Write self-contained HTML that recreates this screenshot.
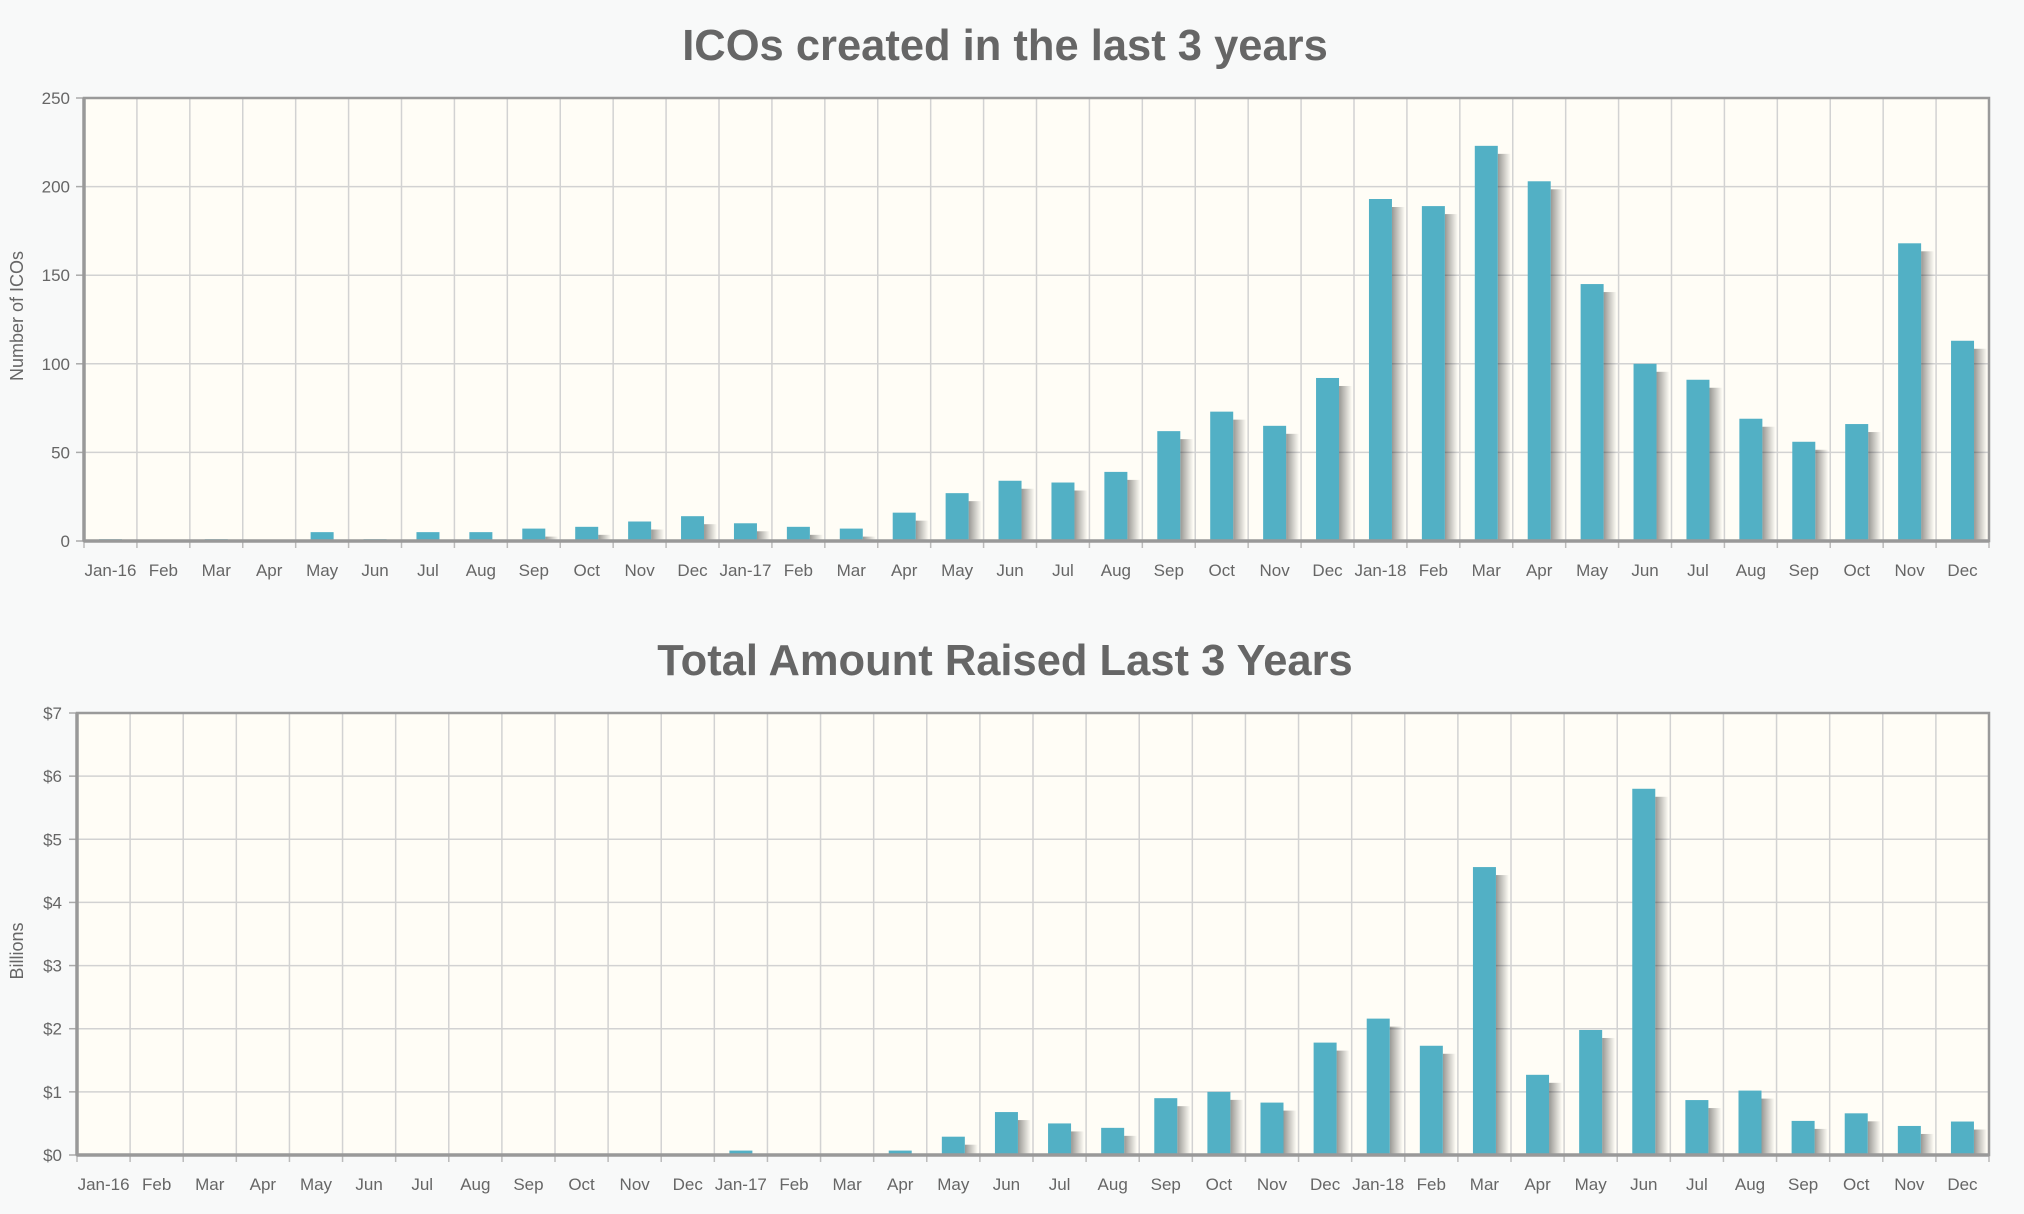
<!DOCTYPE html>
<html><head><meta charset="utf-8"><style>
html,body{margin:0;padding:0;background:#f8f9f9;}
svg{display:block;font-family:"Liberation Sans","DejaVu Sans",sans-serif;}
</style></head><body>
<svg id="s" width="2024" height="1214" xmlns="http://www.w3.org/2000/svg">
<defs>
<linearGradient id="sh" x1="0" x2="1" y1="0" y2="0">
<stop offset="0" stop-color="#000" stop-opacity="0.4"/>
<stop offset="1" stop-color="#000" stop-opacity="0"/>
</linearGradient>
</defs>
</svg>
<script>
var s=document.getElementById('s');var NS='http://www.w3.org/2000/svg';
function el(t,a,txt){var e=document.createElementNS(NS,t);for(var k in a)e.setAttribute(k,a[k]);if(txt!==undefined)e.textContent=txt;s.appendChild(e);return e;}
var months=['Jan-16','Feb','Mar','Apr','May','Jun','Jul','Aug','Sep','Oct','Nov','Dec','Jan-17','Feb','Mar','Apr','May','Jun','Jul','Aug','Sep','Oct','Nov','Dec','Jan-18','Feb','Mar','Apr','May','Jun','Jul','Aug','Sep','Oct','Nov','Dec'];
function chart(o){
  var L=o.L,R=o.R,T=o.T,B=o.B,w=(R-L)/36;
  el('rect',{x:L,y:T,width:R-L,height:B-T,fill:'#fffdf6'});
  for(var i=1;i<36;i++){var x=L+i*w;el('line',{x1:x,x2:x,y1:T,y2:B,stroke:'#d2d2d2','stroke-width':1.5});}
  for(var j=0;j<o.ticks.length;j++){var y=B-(B-T)*j/(o.ticks.length-1);
    if(j>0&&j<o.ticks.length-1)el('line',{x1:L,x2:R,y1:y,y2:y,stroke:'#d2d2d2','stroke-width':1.5});
    el('line',{x1:L-8,x2:L,y1:y,y2:y,stroke:'#aaa','stroke-width':1.5});
    el('text',{x:o.tx,y:y+6,'text-anchor':'end','font-size':17,fill:'#666'},o.ticks[j]);}
  for(var i=0;i<36;i++){var v=o.data[i];var h=v*o.k;var cx=L+(i+0.5)*w;
    if(h>0.5){
      if(h>8)el('rect',{x:cx+11.5,y:B-h+8,width:13,height:h-8,fill:'url(#sh)'});
      el('rect',{x:cx-11.5,y:B-h,width:23,height:h,fill:'#52b0c5'});}
    el('text',{x:cx,y:o.ly,'text-anchor':'middle','font-size':17,fill:'#666'},months[i]);
    el('line',{x1:L+i*w,x2:L+i*w,y1:B,y2:B+7,stroke:'#bbb','stroke-width':1.5});}
  el('line',{x1:R,x2:R,y1:B,y2:B+7,stroke:'#bbb','stroke-width':1.5});
  el('rect',{x:L,y:T,width:R-L,height:B-T,fill:'none',stroke:'#9a9a9a','stroke-width':2.5});
  el('line',{x1:L,x2:L,y1:T,y2:B,stroke:'#999','stroke-width':3.5});
  el('line',{x1:L,x2:R,y1:B,y2:B,stroke:'#999','stroke-width':3.5});
  el('text',{x:o.tcx,y:o.tty,'text-anchor':'middle','font-size':43.5,'font-weight':'bold',fill:'#666'},o.title);
  el('text',{x:0,y:0,'text-anchor':'middle','font-size':18,fill:'#666',transform:'translate('+o.ax+','+o.ay+') rotate(-90)'},o.atitle);
}
chart({L:84,R:1989,T:98,B:541,tx:70,ly:576,tty:60,tcx:1005,ax:23,ay:316,k:(541-98)/250,
 ticks:['0','50','100','150','200','250'],title:'ICOs created in the last 3 years',atitle:'Number of ICOs',
 data:[1,0,1,0,5,1,5,5,7,8,11,14,10,8,7,16,27,34,33,39,62,73,65,92,193,189,223,203,145,100,91,69,56,66,168,113]});
chart({L:77,R:1989,T:713,B:1155,tx:62,ly:1190,tty:675,tcx:1005,ax:23,ay:951,k:(1155-713)/7,
 ticks:['$0','$1','$2','$3','$4','$5','$6','$7'],title:'Total Amount Raised Last 3 Years',atitle:'Billions',
 data:[0,0,0,0,0.02,0,0,0.02,0.02,0.02,0.02,0,0.07,0.02,0.02,0.07,0.29,0.68,0.5,0.43,0.9,1.0,0.83,1.78,2.16,1.73,4.56,1.27,1.98,5.8,0.87,1.02,0.54,0.66,0.46,0.53]});
</script>
</body></html>
